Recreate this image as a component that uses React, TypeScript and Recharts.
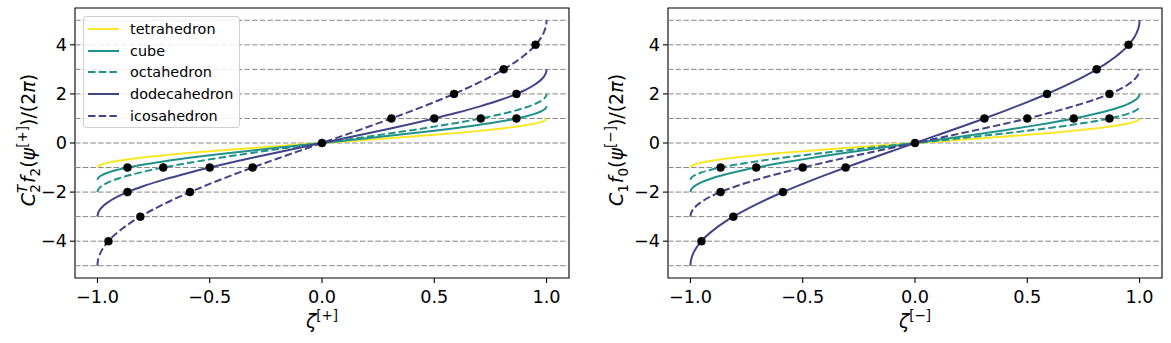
import React from 'react';
import { ComposedChart, Line, Scatter, XAxis, YAxis, ReferenceLine, ReferenceArea, Legend, Label } from 'recharts';

// ζ sample positions
const zeta = [-1, -0.999, -0.995, -0.99, -0.98, -0.95, -0.9, -0.85, -0.8, -0.7, -0.6, -0.5, -0.4, -0.3, -0.2, -0.1, 0,
  0.1, 0.2, 0.3, 0.4, 0.5, 0.6, 0.7, 0.8, 0.85, 0.9, 0.95, 0.98, 0.99, 0.995, 0.999, 1];

// Left panel series values
const leftTetra = [-1, -0.972, -0.936, -0.910, -0.872, -0.798, -0.713, -0.647, -0.590, -0.494, -0.410, -0.333, -0.262, -0.194, -0.128, -0.064, 0,
  0.064, 0.128, 0.194, 0.262, 0.333, 0.410, 0.494, 0.590, 0.647, 0.713, 0.798, 0.872, 0.910, 0.936, 0.972, 1];
const leftCube = [-1.5, -1.457, -1.405, -1.365, -1.309, -1.197, -1.069, -0.970, -0.886, -0.741, -0.615, -0.5, -0.393, -0.291, -0.192, -0.096, 0,
  0.096, 0.192, 0.291, 0.393, 0.5, 0.615, 0.741, 0.886, 0.970, 1.069, 1.197, 1.309, 1.365, 1.405, 1.457, 1.5];
const leftOcta = [-2, -1.943, -1.873, -1.820, -1.745, -1.596, -1.426, -1.294, -1.181, -0.987, -0.819, -0.667, -0.524, -0.388, -0.256, -0.128, 0,
  0.128, 0.256, 0.388, 0.524, 0.667, 0.819, 0.987, 1.181, 1.294, 1.426, 1.596, 1.745, 1.820, 1.873, 1.943, 2];
const leftDodeca = [-3, -2.915, -2.809, -2.730, -2.617, -2.394, -2.139, -1.940, -1.771, -1.481, -1.229, -1.0, -0.786, -0.582, -0.385, -0.191, 0,
  0.191, 0.385, 0.582, 0.786, 1.0, 1.229, 1.481, 1.771, 1.940, 2.139, 2.394, 2.617, 2.730, 2.809, 2.915, 3];
const leftIcosa = [-5, -4.858, -4.682, -4.549, -4.362, -3.989, -3.564, -3.234, -2.952, -2.468, -2.048, -1.667, -1.310, -0.970, -0.641, -0.319, 0,
  0.319, 0.641, 0.970, 1.310, 1.667, 2.048, 2.468, 2.952, 3.234, 3.564, 3.989, 4.362, 4.549, 4.682, 4.858, 5];

// Right panel series values
const rightTetra = [-1, -0.972, -0.936, -0.910, -0.872, -0.798, -0.713, -0.647, -0.590, -0.494, -0.410, -0.333, -0.262, -0.194, -0.128, -0.064, 0,
  0.064, 0.128, 0.194, 0.262, 0.333, 0.410, 0.494, 0.590, 0.647, 0.713, 0.798, 0.872, 0.910, 0.936, 0.972, 1];
const rightCube = [-2, -1.943, -1.873, -1.820, -1.745, -1.596, -1.426, -1.294, -1.181, -0.987, -0.819, -0.667, -0.524, -0.388, -0.256, -0.128, 0,
  0.128, 0.256, 0.388, 0.524, 0.667, 0.819, 0.987, 1.181, 1.294, 1.426, 1.596, 1.745, 1.820, 1.873, 1.943, 2];
const rightOcta = [-1.5, -1.457, -1.405, -1.365, -1.309, -1.197, -1.069, -0.970, -0.886, -0.741, -0.615, -0.5, -0.393, -0.291, -0.192, -0.096, 0,
  0.096, 0.192, 0.291, 0.393, 0.5, 0.615, 0.741, 0.886, 0.970, 1.069, 1.197, 1.309, 1.365, 1.405, 1.457, 1.5];
const rightDodeca = [-5, -4.858, -4.682, -4.549, -4.362, -3.989, -3.564, -3.234, -2.952, -2.468, -2.048, -1.667, -1.310, -0.970, -0.641, -0.319, 0,
  0.319, 0.641, 0.970, 1.310, 1.667, 2.048, 2.468, 2.952, 3.234, 3.564, 3.989, 4.362, 4.549, 4.682, 4.858, 5];
const rightIcosa = [-3, -2.915, -2.809, -2.730, -2.617, -2.394, -2.139, -1.940, -1.771, -1.481, -1.229, -1.0, -0.786, -0.582, -0.385, -0.191, 0,
  0.191, 0.385, 0.582, 0.786, 1.0, 1.229, 1.481, 1.771, 1.940, 2.139, 2.394, 2.617, 2.730, 2.809, 2.915, 3];

// Marked points
const leftDotZeta = [-0.951, -0.809, -0.588, -0.309, -0.866, -0.5, -0.707, -0.866, 0, 0.866, 0.707, 0.5, 0.866, 0.309, 0.588, 0.809, 0.951];
const leftDotValue = [-4, -3, -2, -1, -2, -1, -1, -1, 0, 1, 1, 1, 2, 1, 2, 3, 4];
const rightDotZeta = [-0.951, -0.809, -0.588, -0.309, -0.866, -0.5, -0.707, -0.866, 0, 0.866, 0.707, 0.5, 0.866, 0.309, 0.588, 0.809, 0.951];
const rightDotValue = [-4, -3, -2, -1, -2, -1, -1, -1, 0, 1, 1, 1, 2, 1, 2, 3, 4];

const seriesNames = ['tetrahedron', 'cube', 'octahedron', 'dodecahedron', 'icosahedron'];
const gridValues = [-5, -4, -3, -2, -1, 0, 1, 2, 3, 4, 5];
const xTicks = [-1, -0.5, 0, 0.5, 1];
const yTicks = [-4, -2, 0, 2, 4];

const YELLOW = '#fde725';
const TEAL = '#21918c';
const NAVY = '#414487';
const DASH = '7.5 3.2';
const FONT = "'DejaVu Sans', sans-serif";

const styles = [
  { color: YELLOW, dash: undefined as string | undefined },
  { color: TEAL, dash: undefined as string | undefined },
  { color: TEAL, dash: DASH },
  { color: NAVY, dash: undefined as string | undefined },
  { color: NAVY, dash: DASH },
];

const zip = (xs: number[], ys: number[]) => xs.map((x, i) => ({ x, y: ys[i] }));

const leftValues = [leftTetra, leftCube, leftOcta, leftDodeca, leftIcosa];
const rightValues = [rightTetra, rightCube, rightOcta, rightDodeca, rightIcosa];

const fmtX = (v: number) => v.toFixed(1).replace('-', '\u2212');
const fmtY = (v: number) => String(v).replace('-', '\u2212');

const LegendBox = () => (
  <div style={{
    width: 157, height: 112, boxSizing: 'border-box', border: '1px solid #d0d0d0', borderRadius: 3,
    background: 'rgba(255,255,255,0.85)', paddingTop: 1, fontFamily: FONT, fontSize: 14.4, color: '#000',
  }}>
    {seriesNames.map((n, i) => (
      <div key={n} style={{ height: 21.7, display: 'flex', alignItems: 'center' }}>
        <svg width={31} height={10} style={{ marginLeft: 4, marginRight: 11, display: 'block' }}>
          <line x1={0} y1={5} x2={31} y2={5} stroke={styles[i].color} strokeWidth={2} strokeDasharray={styles[i].dash} />
        </svg>
        <span style={{ lineHeight: '16px' }}>{n}</span>
      </div>
    ))}
  </div>
);

const SUB = 13.5;
const MAIN = 19;

const leftYLabel = (props: any) => {
  const vb = props.viewBox || { x: 15, y: 8, width: 60, height: 270 };
  const x = vb.x + 20;
  const y = vb.y + vb.height / 2 - 3;
  return (
    <text transform={`translate(${x},${y}) rotate(-90)`} textAnchor="middle" fontFamily={FONT} fontSize={MAIN} fill="#000">
      <tspan fontStyle="italic">C</tspan>
      <tspan fontSize={SUB} fontStyle="italic" dy={-8}>T</tspan>
      <tspan fontSize={SUB} dx={-8} dy={13}>2</tspan>
      <tspan fontStyle="italic" dy={-5} dx={1}>f</tspan>
      <tspan fontSize={SUB} dy={5}>2</tspan>
      <tspan dy={-5}>(</tspan>
      <tspan fontStyle="italic">ψ</tspan>
      <tspan fontSize={SUB} dy={-8}>[+]</tspan>
      <tspan dy={8}>)/(2</tspan>
      <tspan fontStyle="italic">π</tspan>
      <tspan>)</tspan>
    </text>
  );
};

const rightYLabel = (props: any) => {
  const vb = props.viewBox || { x: 15, y: 8, width: 60, height: 270 };
  const x = vb.x + 15;
  const y = vb.y + vb.height / 2 - 3;
  return (
    <text transform={`translate(${x},${y}) rotate(-90)`} textAnchor="middle" fontFamily={FONT} fontSize={MAIN} fill="#000">
      <tspan fontStyle="italic">C</tspan>
      <tspan fontSize={SUB} dy={5}>1</tspan>
      <tspan fontStyle="italic" dy={-5} dx={1}>f</tspan>
      <tspan fontSize={SUB} dy={5}>0</tspan>
      <tspan dy={-5}>(</tspan>
      <tspan fontStyle="italic">ψ</tspan>
      <tspan fontSize={SUB} dy={-8}>[−]</tspan>
      <tspan dy={8}>)/(2</tspan>
      <tspan fontStyle="italic">π</tspan>
      <tspan>)</tspan>
    </text>
  );
};

const makeXLabel = (sign: string) => (props: any) => {
  const vb = props.viewBox || { x: 75, y: 278, width: 494, height: 40 };
  const x = vb.x + vb.width / 2;
  const y = vb.y + 50;
  return (
    <text x={x} y={y} textAnchor="middle" fontFamily={FONT} fontSize={MAIN} fill="#000">
      <tspan fontStyle="italic">ζ</tspan>
      <tspan fontSize={SUB} dy={-8}>[{sign}]</tspan>
    </text>
  );
};

const dotShape = (p: any) => <circle cx={p.cx} cy={p.cy} r={4} fill="#000" stroke="#000" strokeWidth={0.5} />;

const Panel = ({ values, dotZeta, dotValue, width, marginRight, yLabel, xSign, showLegend }: any) => (
  <ComposedChart width={width} height={343} margin={{ top: 8, right: marginRight, bottom: 25, left: 15 }}>
    <XAxis
      type="number" dataKey="x" domain={[-1.1, 1.1]} ticks={xTicks} allowDataOverflow
      tickFormatter={fmtX} axisLine={false} tickLine={{ stroke: '#000', strokeWidth: 1.1 }} tickSize={5} tickMargin={7}
      tick={{ fill: '#000', fontSize: 17.7, fontFamily: FONT }} height={40} interval={0}
    >
      <Label content={makeXLabel(xSign)} />
    </XAxis>
    <YAxis
      type="number" dataKey="y" domain={[-5.5, 5.5]} ticks={yTicks} allowDataOverflow
      tickFormatter={fmtY} axisLine={false} tickLine={{ stroke: '#000', strokeWidth: 1.1 }} tickSize={5} tickMargin={3}
      tick={{ fill: '#000', fontSize: 17.7, fontFamily: FONT }} width={60} interval={0}
    >
      <Label content={yLabel} />
    </YAxis>
    {gridValues.map((g) => (
      <ReferenceLine key={g} y={g} stroke="#858585" strokeWidth={1} strokeDasharray="5.5 2.2" />
    ))}
    {values.map((vals: number[], i: number) => (
      <Line
        key={seriesNames[i]} name={seriesNames[i]} data={zip(zeta, vals)} dataKey="y" type="monotone"
        stroke={styles[i].color} strokeWidth={2} strokeDasharray={styles[i].dash}
        dot={false} activeDot={false} isAnimationActive={false}
      />
    ))}
    <Scatter data={zip(dotZeta, dotValue)} dataKey="y" shape={dotShape} isAnimationActive={false} legendType="none" />
    <ReferenceArea x1={-1.1} x2={1.1} y1={-5.5} y2={5.5} fill="none" fillOpacity={0} stroke="#000" strokeWidth={1.1} ifOverflow="visible" />
    {showLegend && (
      <Legend
        layout="vertical" verticalAlign="middle" align="center"
        content={() => <LegendBox />}
        wrapperStyle={{ left: 83, top: 16, width: 157, height: 112, bottom: 'auto', right: 'auto' }}
      />
    )}
  </ComposedChart>
);

export default function App() {
  return (
    <div style={{ position: 'absolute', left: 0, top: 0, width: 1171, height: 343, background: '#fff', overflow: 'hidden' }}>
      <div style={{ position: 'absolute', left: 0, top: 0 }}>
        <Panel values={leftValues} dotZeta={leftDotZeta} dotValue={leftDotValue} width={600} marginRight={31}
          yLabel={leftYLabel} xSign="+" showLegend />
      </div>
      <div style={{ position: 'absolute', left: 593, top: 0 }}>
        <Panel values={rightValues} dotZeta={rightDotZeta} dotValue={rightDotValue} width={578} marginRight={9}
          yLabel={rightYLabel} xSign="−" showLegend={false} />
      </div>
    </div>
  );
}
